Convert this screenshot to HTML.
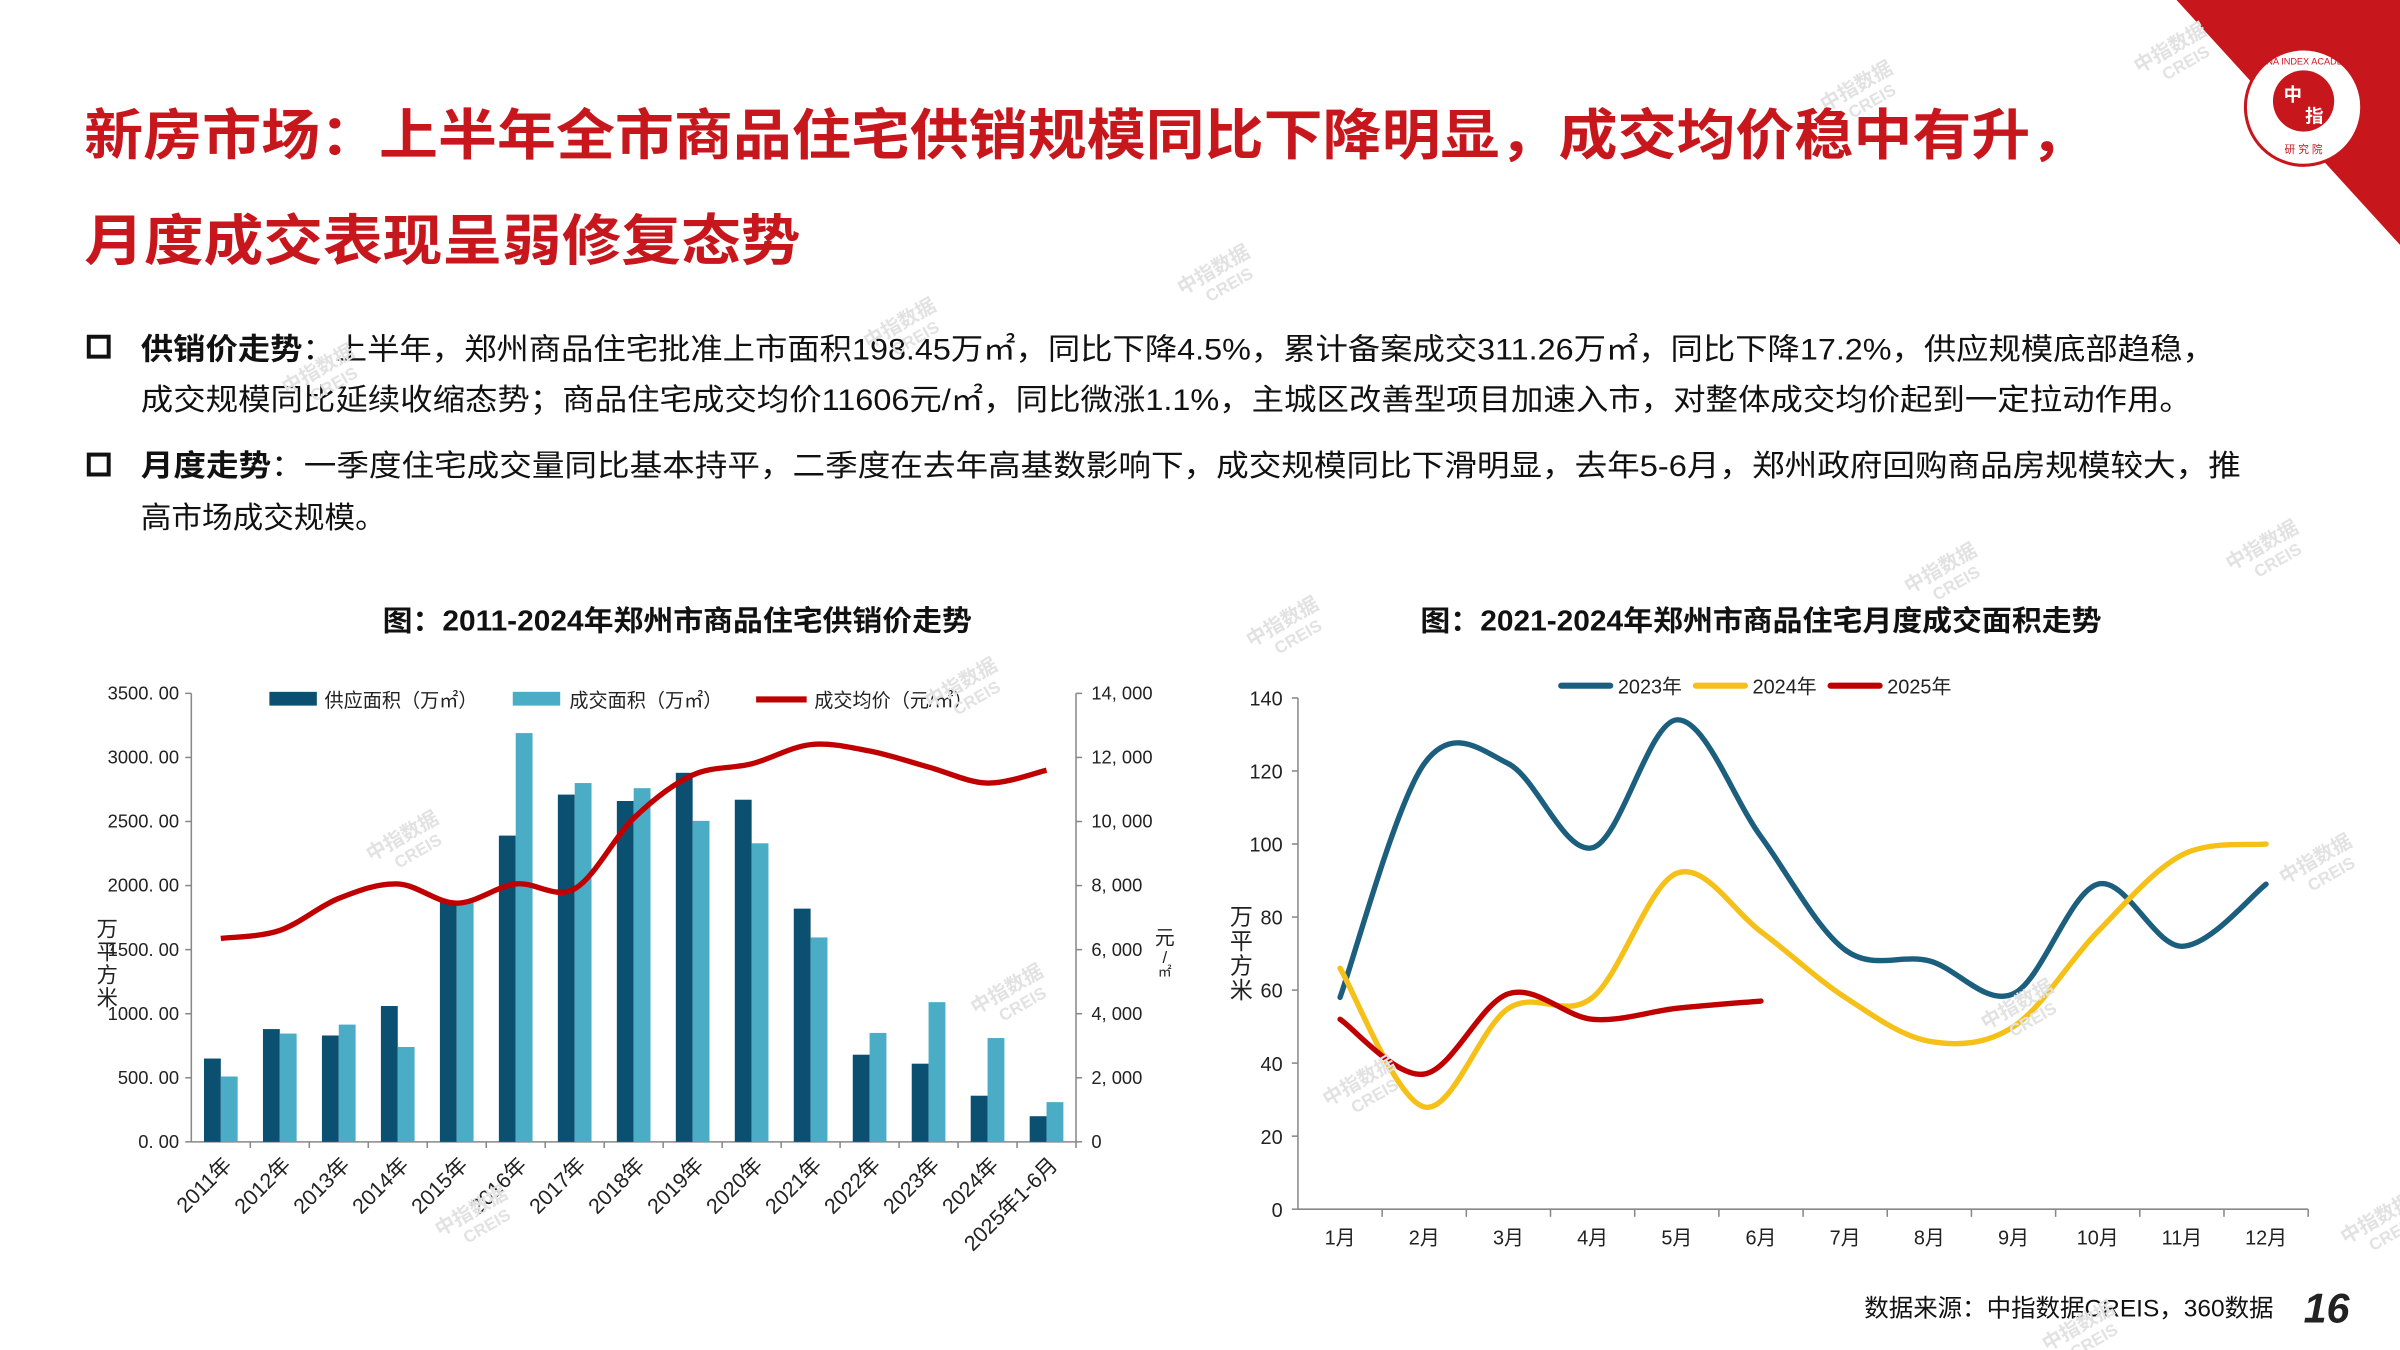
<!DOCTYPE html>
<html><head><meta charset="utf-8">
<style>
html,body{margin:0;padding:0;background:#fff;}
svg{display:block;font-family:"Liberation Sans","Noto Sans CJK SC",sans-serif;}
</style></head>
<body>
<svg id="s" width="2400" height="1350" viewBox="0 0 1568 882" xmlns="http://www.w3.org/2000/svg">
<rect width="1568" height="882" fill="#fff"/>
<polygon points="1422,0 1568,0 1568,160" fill="#c8161d"/>
<circle cx="1505" cy="70" r="38" fill="#fff" stroke="#c8161d" stroke-width="2"/>
<circle cx="1505" cy="66" r="20" fill="#c8161d"/>
<text x="1498" y="66" font-size="12" fill="#fff" font-weight="bold" text-anchor="middle">中</text>
<text x="1512" y="80" font-size="12" fill="#fff" font-weight="bold" text-anchor="middle">指</text>
<text x="1505" y="100" font-size="7" fill="#c8161d" text-anchor="middle">研 究 院</text>
<text x="1505" y="42" font-size="6" fill="#c8161d" text-anchor="middle">CHINA INDEX ACADEMY</text>

<g fill="#c8161d" font-weight="bold" font-size="36">
<text x="55" y="101" textLength="1310" lengthAdjust="spacingAndGlyphs">新房市场：上半年全市商品住宅供销规模同比下降明显，成交均价稳中有升，</text>
<text x="55" y="170" textLength="468" lengthAdjust="spacingAndGlyphs">月度成交表现呈弱修复态势</text>
</g>
<g font-size="19.5" fill="#111">
<rect x="58" y="220" width="13" height="13" fill="none" stroke="#111" stroke-width="2.6"/>
<rect x="58" y="297" width="13" height="13" fill="none" stroke="#111" stroke-width="2.6"/>
<text x="92" y="235" textLength="1355" lengthAdjust="spacingAndGlyphs"><tspan font-weight="bold">供销价走势</tspan>：上半年，郑州商品住宅批准上市面积198.45万㎡，同比下降4.5%，累计备案成交311.26万㎡，同比下降17.2%，供应规模底部趋稳，</text>
<text x="92" y="268" textLength="1340" lengthAdjust="spacingAndGlyphs">成交规模同比延续收缩态势；商品住宅成交均价11606元/㎡，同比微涨1.1%，主城区改善型项目加速入市，对整体成交均价起到一定拉动作用。</text>
<text x="92" y="311" textLength="1372" lengthAdjust="spacingAndGlyphs"><tspan font-weight="bold">月度走势</tspan>：一季度住宅成交量同比基本持平，二季度在去年高基数影响下，成交规模同比下滑明显，去年5-6月，郑州政府回购商品房规模较大，推</text>
<text x="92" y="345" textLength="160" lengthAdjust="spacingAndGlyphs">高市场成交规模。</text>
</g>
<text x="250" y="412" font-size="18.5" font-weight="bold" fill="#111" textLength="385" lengthAdjust="spacingAndGlyphs">图：2011-2024年郑州市商品住宅供销价走势</text>
<text x="928" y="412" font-size="18.5" font-weight="bold" fill="#111" textLength="445" lengthAdjust="spacingAndGlyphs">图：2021-2024年郑州市商品住宅月度成交面积走势</text>
<g id="c1"></g><g id="c2"></g>
<text x="1218" y="860" font-size="16" fill="#111">数据来源：中指数据CREIS，360数据</text>
<text x="1505" y="864" font-size="27" font-weight="bold" font-style="italic" fill="#222">16</text>
<g id="wm" fill="#e2e2e2" font-size="13" font-weight="bold"></g>
</svg>
<script>
var NS="http://www.w3.org/2000/svg";
function el(p,t,a,txt){var e=document.createElementNS(NS,t);for(var k in a)e.setAttribute(k,a[k]);if(txt!==undefined)e.textContent=txt;p.appendChild(e);return e;}
function smooth(pts){var d="M"+pts[0][0]+","+pts[0][1];for(var i=0;i<pts.length-1;i++){var p0=pts[i-1]||pts[i],p1=pts[i],p2=pts[i+1],p3=pts[i+2]||p2;
var c1x=p1[0]+(p2[0]-p0[0])/6,c1y=p1[1]+(p2[1]-p0[1])/6,c2x=p2[0]-(p3[0]-p1[0])/6,c2y=p2[1]-(p3[1]-p1[1])/6;d+=" C"+c1x+","+c1y+" "+c2x+","+c2y+" "+p2[0]+","+p2[1];}return d;}
var g=document.getElementById("c1");
var L=125,R=703,T=453,B=746,H=B-T;
el(g,"line",{x1:L,y1:T,x2:L,y2:B,stroke:"#888","stroke-width":1});
el(g,"line",{x1:R,y1:T,x2:R,y2:B,stroke:"#888","stroke-width":1});
el(g,"line",{x1:L,y1:B,x2:R,y2:B,stroke:"#888","stroke-width":1});
var lv=["0. 00","500. 00","1000. 00","1500. 00","2000. 00","2500. 00","3000. 00","3500. 00"];
var rv=["0","2, 000","4, 000","6, 000","8, 000","10, 000","12, 000","14, 000"];
for(var i=0;i<8;i++){var y=B-i*H/7;el(g,"line",{x1:L-4,y1:y,x2:L,y2:y,stroke:"#888"});el(g,"line",{x1:R,y1:y,x2:R+4,y2:y,stroke:"#888"});
el(g,"text",{x:117,y:y+4,"font-size":12,"text-anchor":"end",fill:"#222"},lv[i]);el(g,"text",{x:713,y:y+4,"font-size":12,fill:"#222"},rv[i]);}
var sup=[650,880,830,1060,1880,2390,2710,2660,2880,2670,1820,680,610,360,200];
var sal=[510,845,915,740,1880,3190,2800,2760,2505,2330,1595,850,1090,810,310];
var pr=[6350,6600,7600,8050,7450,8050,7900,10100,11450,11800,12400,12200,11700,11200,11600];
var lab=["2011年","2012年","2013年","2014年","2015年","2016年","2017年","2018年","2019年","2020年","2021年","2022年","2023年","2024年","2025年1-6月"];
var w=(R-L)/15,pts=[];
for(var i=0;i<15;i++){var c=L+w*(i+0.5);
el(g,"rect",{x:c-11,y:B-sup[i]/3500*H,width:11,height:sup[i]/3500*H,fill:"#0b4f71"});
el(g,"rect",{x:c,y:B-sal[i]/3500*H,width:11,height:sal[i]/3500*H,fill:"#4bacc6"});
el(g,"line",{x1:L+w*(i+1),y1:B,x2:L+w*(i+1),y2:B+4,stroke:"#888"});
pts.push([c,B-pr[i]/14000*H]);
el(g,"text",{x:c+8,y:B+16,"font-size":14,"text-anchor":"end",fill:"#222",transform:"rotate(-45 "+(c+8)+" "+(B+16)+")"},lab[i]);}
el(g,"path",{d:smooth(pts),fill:"none",stroke:"#c00000","stroke-width":3.5});
el(g,"rect",{x:176,y:452,width:31,height:9,fill:"#0b4f71"});
el(g,"text",{x:212,y:462,"font-size":12.5,fill:"#222"},"供应面积（万㎡）");
el(g,"rect",{x:335,y:452,width:31,height:9,fill:"#4bacc6"});
el(g,"text",{x:372,y:462,"font-size":12.5,fill:"#222"},"成交面积（万㎡）");
el(g,"line",{x1:494,y1:457,x2:527,y2:457,stroke:"#c00000","stroke-width":4});
el(g,"text",{x:532,y:462,"font-size":12.5,fill:"#222"},"成交均价（元/㎡）");
["万","平","方","米"].forEach(function(ch,k){el(g,"text",{x:70,y:612+k*15,"font-size":14,"text-anchor":"middle",fill:"#222"},ch);});
el(g,"text",{x:761,y:617,"font-size":13,"text-anchor":"middle",fill:"#222"},"元");
el(g,"text",{x:761,y:629,"font-size":11,"text-anchor":"middle",fill:"#222"},"/");
el(g,"text",{x:761,y:638,"font-size":9,"text-anchor":"middle",fill:"#222"},"㎡");
g=document.getElementById("c2");
L=848;R=1508;T=456;B=790;H=B-T;
el(g,"line",{x1:L,y1:T,x2:L,y2:B,stroke:"#888"});
el(g,"line",{x1:L,y1:B,x2:R,y2:B,stroke:"#888"});
for(var i=0;i<8;i++){var y=B-i*H/7;el(g,"line",{x1:L-4,y1:y,x2:L,y2:y,stroke:"#888"});
el(g,"text",{x:838,y:y+5,"font-size":13,"text-anchor":"end",fill:"#222"},String(i*20));}
w=(R-L)/12;
for(var i=0;i<12;i++){var c=L+w*(i+0.5);el(g,"line",{x1:L+w*(i+1),y1:B,x2:L+w*(i+1),y2:B+5,stroke:"#888"});
el(g,"text",{x:c,y:813,"font-size":13,"text-anchor":"middle",fill:"#222"},(i+1)+"月");}
var S=[[[58,122,122,99,134,102,71,68,59,89,72,89],"#1b5e7e"],[[66,28,55,58,92,76,58,46,50,76,97,100],"#f5c018"],[[52,37,59,52,55,57],"#c00000"]];
S.forEach(function(s){var p=s[0].map(function(v,i){return [L+w*(i+0.5),B-v/140*H];});el(g,"path",{d:smooth(p),fill:"none",stroke:s[1],"stroke-width":3.5,"stroke-linecap":"round"});});
[["2023年","#1b5e7e",1020],["2024年","#f5c018",1108],["2025年","#c00000",1196]].forEach(function(l){
el(g,"line",{x1:l[2],y1:448,x2:l[2]+32,y2:448,stroke:l[1],"stroke-width":4,"stroke-linecap":"round"});
el(g,"text",{x:l[2]+37,y:453,"font-size":13,fill:"#222"},l[0]);});
["万","平","方","米"].forEach(function(ch,k){el(g,"text",{x:811,y:604+k*16,"font-size":15,"text-anchor":"middle",fill:"#222"},ch);});
var wm=document.getElementById("wm");
[[795,180],[590,215],[1215,60],[1420,35],[265,550],[660,650],[1270,375],[1480,360],[1515,565],[890,710],[1320,660],[310,795],[840,410],[1555,800],[1360,870],[210,245],[630,450]].forEach(function(p){
el(wm,"text",{x:p[0],y:p[1],transform:"rotate(-30 "+p[0]+" "+p[1]+")","text-anchor":"middle"},"中指数据");
el(wm,"text",{x:p[0]+4,y:p[1]+13,transform:"rotate(-30 "+p[0]+" "+p[1]+")","text-anchor":"middle","font-size":11},"CREIS");});
</script>
</body></html>
